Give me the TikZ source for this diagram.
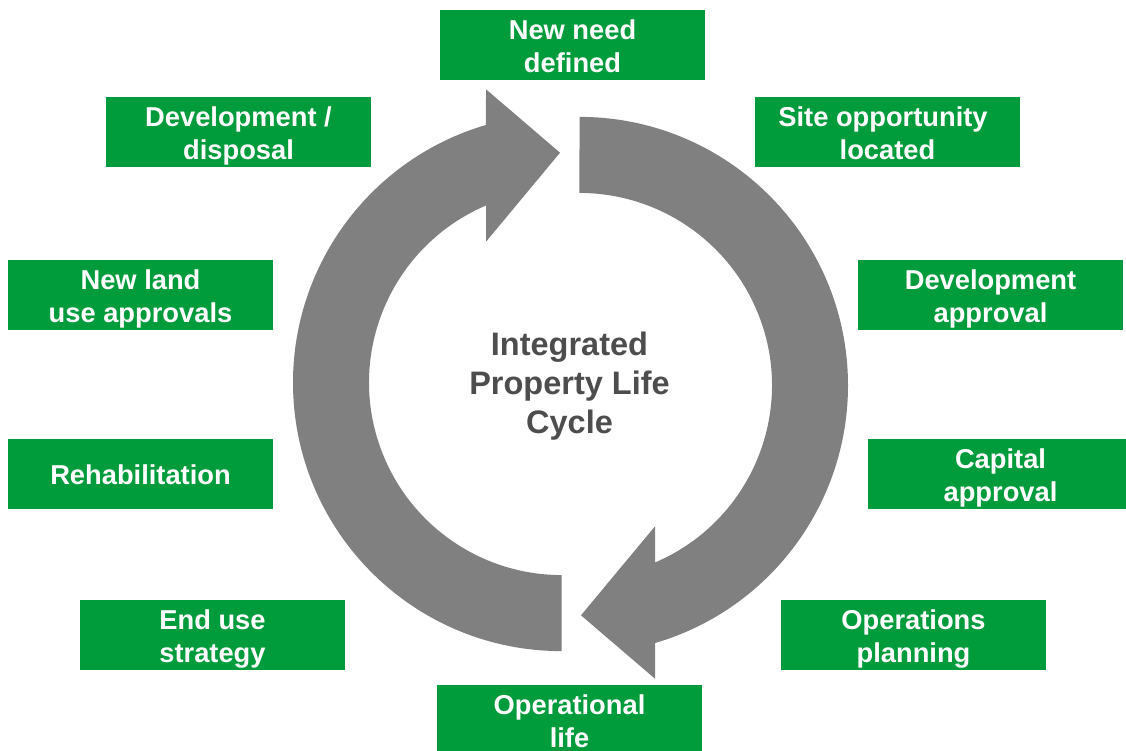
\documentclass[tikz,border=0pt]{standalone}
\usepackage{fontspec}
\setmainfont{Liberation Sans}
\definecolor{boxgreen}{RGB}{0,155,58}
\definecolor{ringgray}{RGB}{128,128,128}
\definecolor{titlegray}{RGB}{77,77,77}
\newcommand\twoline[2]{\rule{0pt}{21.4pt}\smash{#1}\\\smash{#2}}
\newcommand\oneline[1]{\rule{0pt}{21.4pt}\smash{#1}}
\newcommand\threeline[3]{\rule{0pt}{23.3pt}\smash{#1}\\\smash{#2}\\\smash{#3}}
\begin{document}
\begin{tikzpicture}[x=1pt,y=1pt,yscale=-1,
  stage/.style={fill=boxgreen, text=white, minimum width=265pt, minimum height=70pt,
    inner sep=0pt, align=center, font=\bfseries\fontsize{27.3}{33}\selectfont},
  ring/.style={fill=ringgray},
  title/.style={text=titlegray, align=center, inner sep=0pt,
    font=\bfseries\fontsize{32.5}{38.8}\selectfont}]
\fill[white] (0,0) rectangle (1126,751);
\useasboundingbox (0,0) rectangle (1126,751);

% ring arrows
\fill[ring] (561.5,651.1) arc[start angle=90, end angle=253.66, radius=268.5]
  -- (486,89.3) -- (560,152.7) -- (486,241.7) -- (486,205.5)
  arc[start angle=246.9, end angle=90, radius=192.5] -- cycle;
\fill[ring] (579.5,116.9) arc[start angle=270, end angle=433.66, radius=268.5]
  -- (655,678.7) -- (581,615.3) -- (655,526.3) -- (655,562.5)
  arc[start angle=426.9, end angle=270, radius=192.5] -- cycle;

\node[title] (center) at (569.5,382.8) {\threeline{Integrated}{Property Life}{Cycle}};

\node[stage] (need)     at (572.5,45)  {\twoline{New need}{defined}};
\node[stage] (dispose)  at (238.5,132) {\twoline{Development /}{disposal}};
\node[stage] (site)     at (887.5,132) {\twoline{Site opportunity\hspace*{9pt}}{located}};
\node[stage] (landuse)  at (140.5,295) {\twoline{New land}{use approvals}};
\node[stage] (devappr)  at (990.5,295) {\twoline{Development}{approval}};
\node[stage] (rehab)    at (140.5,474) {\oneline{Rehabilitation}};
\node[stage] (capital)  at (1000.5,474) {\twoline{Capital}{approval}};
\node[stage] (endstrat) at (212.5,635) {\twoline{End use}{strategy}};
\node[stage] (opsplan)  at (913.5,635) {\twoline{Operations}{planning}};
\node[stage] (oplife)   at (569.5,720) {\twoline{Operational}{life}};
\end{tikzpicture}
\end{document}
